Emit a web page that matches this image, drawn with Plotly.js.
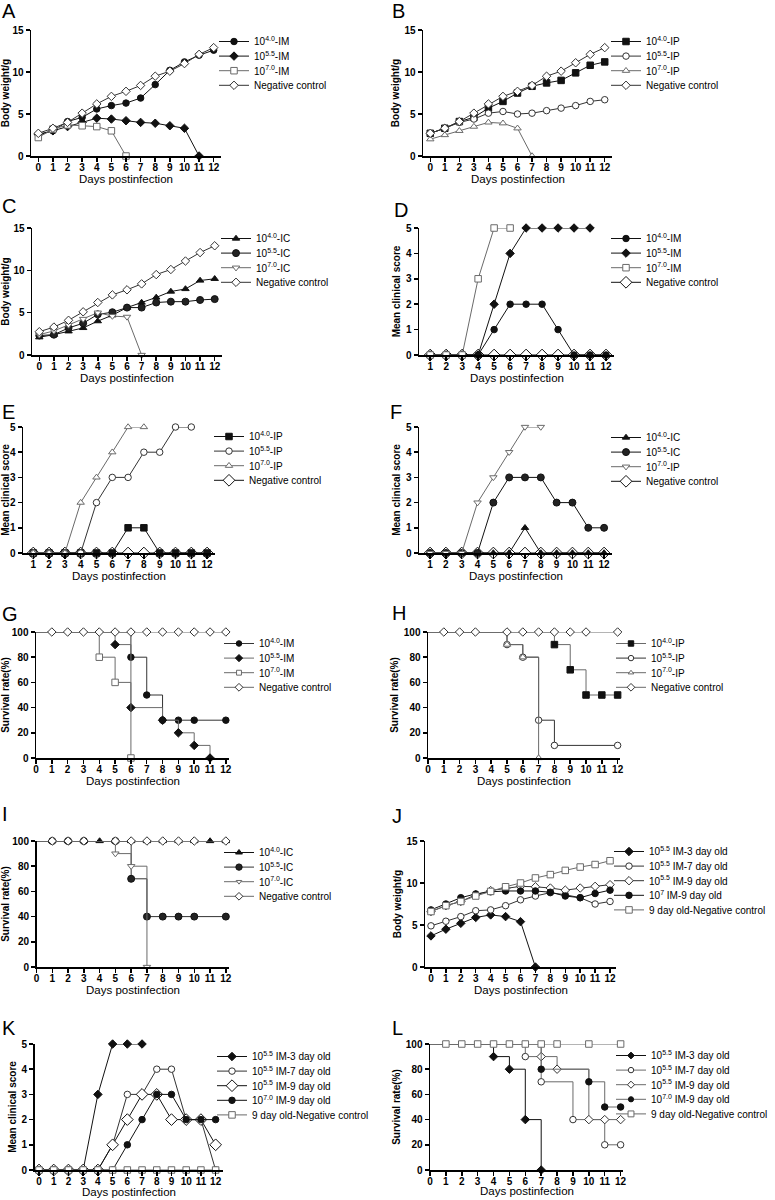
<!DOCTYPE html>
<html><head><meta charset="utf-8">
<script src="https://cdn.plot.ly/plotly-3.0.1.min.js"></script>
<style>body{margin:0;background:#fff}#chart{width:775px;height:1200px}</style>
</head><body><div id="chart"></div>
<script>
// ================= DATA =================
const daysAll = [0,1,2,3,4,5,6,7,8,9,10,11,12];
const days1to12 = [1,2,3,4,5,6,7,8,9,10,11,12];

// A: body weight, IM route
const aIM40 = [2.5,3.0,4.1,4.6,5.6,6.0,6.3,6.9,8.5,10.2,11.2,12.0,12.6];
const aIM55 = [2.6,3.0,3.5,4.0,4.5,4.4,4.2,4.0,3.9,3.6,3.3,0];
const aIM70 = [2.2,3.2,3.7,3.6,3.5,3.0,0];
const aNeg  = [2.7,3.3,4.0,5.1,6.2,7.1,7.7,8.4,9.5,10.1,11.0,12.1,12.9];

// B: body weight, IP route
const bIP40 = [2.7,3.3,4.1,4.6,5.7,6.5,7.5,8.3,8.7,9.0,9.9,10.8,11.2];
const bIP55 = [2.7,3.3,4.0,4.4,5.1,5.3,5.0,5.1,5.4,5.7,6.0,6.5,6.7];
const bIP70 = [2.0,2.5,3.0,3.5,4.0,3.9,3.3,0];
const bNeg  = [2.7,3.3,4.1,5.1,6.2,7.1,7.7,8.4,9.5,10.1,11.1,12.1,12.9];

// C: body weight, IC route
const cIC40 = [2.1,2.4,2.8,3.2,4.0,4.7,5.6,6.2,6.8,7.5,7.8,8.8,9.0];
const cIC55 = [2.3,2.4,3.2,3.75,4.8,5.05,5.6,5.6,6.2,6.3,6.3,6.5,6.6];
const cIC70 = [2.4,2.85,3.55,4.25,5.0,4.6,4.5,0];
const cNeg  = [2.75,3.3,4.1,5.1,6.2,7.1,7.7,8.4,9.5,10.1,11.1,12.1,12.9];

// D: mean clinical score, IM (days 1..)
const dIM40 = [0,0,0,0,1,2,2,2,1,0,0,0];
const dIM55 = [0,0,0,0,2,4,5,5,5,5,5];
const dIM70 = [0,0,0,3,5,5];
const dNeg  = [0,0,0,0,0,0,0,0,0,0,0,0];

// E: mean clinical score, IP (days 1..)
const eIP40 = [0,0,0,0,0,0,1,1,0,0,0,0];
const eIP55 = [0,0,0,0,2,3,3,4,4,5,5];
const eIP70 = [0,0,0,2,3,4,5,5];
const eNeg  = [0,0,0,0,0,0,0,0,0,0,0,0];

// F: mean clinical score, IC (days 1..)
const fIC40 = [0,0,0,0,0,0,1,0,0,0,0,0];
const fIC55 = [0,0,0,0,2,3,3,3,2,2,1,1];
const fIP70 = [0,0,0,2,3,4,5,5];
const fNeg  = [0,0,0,0,0,0,0,0,0,0,0,0];

// G: survival, IM (event days / survival %)
const gIM40x = [0,6,7,8,9,10,12];        const gIM40y = [100,80,50,30,30,30,30];
const gIM55x = [0,5,6,8,9,10,11];        const gIM55y = [100,90,40,30,20,10,0];
const gIM70x = [0,4,5,6];                const gIM70y = [100,80,60,0];
const gNegx  = [0,1,2,3,4,5,6,7,8,9,10,11,12];
const gNegy  = [100,100,100,100,100,100,100,100,100,100,100,100,100];

// H: survival, IP
const hIP40x = [0,8,9,10,11,12];         const hIP40y = [100,90,70,50,50,50];
const hIP55x = [0,5,6,7,8,12];           const hIP55y = [100,90,80,30,10,10];
const hIP70x = [0,5,6,7];                const hIP70y = [100,90,80,0];
const hNegx  = [0,1,2,3,5,6,7,8,9,10,12];
const hNegy  = [100,100,100,100,100,100,100,100,100,100,100];

// I: survival, IC
const iIC40x = [0,1,2,3,4,5,6,7,8,9,10,11,12];
const iIC40y = [100,100,100,100,100,100,100,100,100,100,100,100,100];
const iIC55x = [0,1,2,3,5,6,7,8,9,10,12]; const iIC55y = [100,100,100,100,100,70,40,40,40,40,40];
const iIC70x = [0,5,6,7];                const iIC70y = [100,90,80,0];
const iNegx  = [0,1,2,3,5,6,7,8,9,10,12];
const iNegy  = [100,100,100,100,100,100,100,100,100,100,100];

// J: body weight by age
const jD3   = [3.7,4.5,5.2,5.9,6.2,6.0,5.4,0];
const jD7   = [4.9,5.45,6.0,6.7,6.8,7.3,8.0,8.45,8.85,8.6,8.25,7.5,7.8];
const jD9   = [6.6,7.3,7.8,8.6,9.1,9.35,9.6,9.55,9.4,9.15,9.4,9.6,9.8];
const jD9h  = [6.8,7.5,8.25,8.7,8.95,9.05,9.05,9.05,8.9,8.45,8.25,8.75,9.15];
const jNeg  = [6.6,7.3,7.8,8.45,9.0,9.55,10.0,10.6,11.0,11.5,11.9,12.2,12.65];

// K: mean clinical score by age
const kD3   = [0,0,0,0,3,5,5,5];
const kD7   = [0,0,0,0,0,1,3,3,4,4,2,2,0];
const kD9   = [0,0,0,0,0,1,2,3,3,2,2,2,1];
const kD9h  = [0,0,0,0,0,0,1,2,3,3,2,2,2];
const kNeg  = [0,0,0,0,0,0,0,0,0,0,0,0,0];

// L: survival by age
const lD3x  = [0,4,5,6,7];               const lD3y  = [100,90,80,40,0];
const lD7x  = [0,6,7,9,11,12];           const lD7y  = [100,90,70,40,20,20];
const lD9x  = [0,7,8,10,11,12];          const lD9y  = [100,90,80,40,40,40];
const lD9hx = [0,7,10,11,12];            const lD9hy = [100,80,70,50,50];
const lNegx = [0,1,2,3,4,5,6,7,8,10,12];
const lNegy = [100,100,100,100,100,100,100,100,100,100,100];

// legend names / texts
const nIM = ['10<sup>4.0</sup>-IM','10<sup>5.5</sup>-IM','10<sup>7.0</sup>-IM','Negative control'];
const nIP = ['10<sup>4.0</sup>-IP','10<sup>5.5</sup>-IP','10<sup>7.0</sup>-IP','Negative control'];
const nIC = ['10<sup>4.0</sup>-IC','10<sup>5.5</sup>-IC','10<sup>7.0</sup>-IC','Negative control'];
const nF  = ['10<sup>4.0</sup>-IC','10<sup>5.5</sup>-IC','10<sup>7.0</sup>-IP','Negative control'];
const nAge = ['10<sup>5.5</sup> IM-3 day old','10<sup>5.5</sup> IM-7 day old','10<sup>5.5</sup> IM-9 day old','10<sup>7</sup> IM-9 day old','9 day old-Negative control'];
const nAgeK = ['10<sup>5.5</sup> IM-3 day old','10<sup>5.5</sup> IM-7 day old','10<sup>5.5</sup> IM-9 day old','10<sup>7.0</sup> IM-9 day old','9 day old-Negative control'];
const panelLetters = ['A','B','C','D','E','F','G','H','I','J','K','L'];
const xTitle = 'Days postinfection';

// ================= STYLE =================
const W = 775, H = 1200;
const FONT = 'Liberation Sans, Arial, Helvetica, sans-serif';
const BLK = '#111', GRY = '#6a6a6a';
const fx = p => p / W;
const fy = p => 1 - p / H;

// marker styles
const M = {
  fcirc: {symbol:'circle', size:6.5, color:BLK, line:{color:BLK,width:1}, lc:BLK},
  hcirc: {symbol:'circle', size:7, color:'#222', line:{color:BLK,width:1}, lc:BLK},
  fdia:  {symbol:'diamond', size:6.5, color:BLK, line:{color:BLK,width:1}, lc:BLK},
  fsq:   {symbol:'square', size:6.5, color:BLK, line:{color:BLK,width:1}, lc:BLK},
  ftri:  {symbol:'triangle-up', size:6.5, color:BLK, line:{color:BLK,width:1}, lc:BLK},
  osq:   {symbol:'square', size:6.5, color:'#fff', line:{color:GRY,width:1}, lc:GRY},
  odia:  {symbol:'diamond', size:6.5, color:'#fff', line:{color:'#333',width:1}, lc:'#333'},
  odiaL: {symbol:'diamond', size:9, color:'#fff', line:{color:BLK,width:1}, lc:BLK},
  ocirc: {symbol:'circle', size:6.5, color:'#fff', line:{color:'#333',width:1}, lc:'#333'},
  otri:  {symbol:'triangle-up', size:6.5, color:'#fff', line:{color:GRY,width:1}, lc:GRY},
  otrid: {symbol:'triangle-down', size:6.5, color:'#fff', line:{color:GRY,width:1}, lc:GRY}
};

const traces = [];
function addTrace(p, x, y, name, mk, opts) {
  opts = opts || {};
  const sizes = opts.hideFirst ? x.map((v, i) => i === 0 ? 0 : mk.size) : mk.size;
  traces.push({
    type: 'scatter', mode: 'lines+markers', x: x, y: y, name: name,
    xaxis: 'x' + (p === 1 ? '' : p), yaxis: 'y' + (p === 1 ? '' : p),
    legend: 'legend' + (p === 1 ? '' : p),
    legendrank: name.indexOf('Negative') >= 0 ? 2000 : 1000,
    cliponaxis: false, opacity: 1,
    line: {color: opts.lc || mk.lc, width: 1, shape: opts.step ? 'hv' : 'linear'},
    marker: {symbol: mk.symbol, size: sizes, color: mk.color, line: mk.line, opacity: 1}
  });
}
const xs = (y) => daysAll.slice(0, y.length);
const xs1 = (y) => days1to12.slice(0, y.length);

// A
addTrace(1, xs(aIM40), aIM40, nIM[0], M.fcirc);
addTrace(1, xs(aIM55), aIM55, nIM[1], M.fdia);
addTrace(1, xs(aIM70), aIM70, nIM[2], M.osq);
addTrace(1, xs(aNeg), aNeg, nIM[3], M.odia);
// B
addTrace(2, xs(bIP40), bIP40, nIP[0], M.fsq);
addTrace(2, xs(bIP55), bIP55, nIP[1], M.ocirc);
addTrace(2, xs(bIP70), bIP70, nIP[2], M.otri);
addTrace(2, xs(bNeg), bNeg, nIP[3], M.odia);
// C
addTrace(3, xs(cIC40), cIC40, nIC[0], M.ftri);
addTrace(3, xs(cIC55), cIC55, nIC[1], M.hcirc);
addTrace(3, xs(cIC70), cIC70, nIC[2], M.otrid);
addTrace(3, xs(cNeg), cNeg, nIC[3], M.odia);
// D
addTrace(4, xs1(dNeg), dNeg, nIM[3], M.odiaL);
addTrace(4, xs1(dIM40), dIM40, nIM[0], M.fcirc);
addTrace(4, xs1(dIM55), dIM55, nIM[1], M.fdia);
addTrace(4, xs1(dIM70), dIM70, nIM[2], M.osq);
// E
addTrace(5, xs1(eNeg), eNeg, nIP[3], M.odiaL);
addTrace(5, xs1(eIP40), eIP40, nIP[0], M.fsq);
addTrace(5, xs1(eIP55), eIP55, nIP[1], M.ocirc);
addTrace(5, xs1(eIP70), eIP70, nIP[2], M.otri);
// F
addTrace(6, xs1(fNeg), fNeg, nF[3], M.odiaL);
addTrace(6, xs1(fIC40), fIC40, nF[0], M.ftri);
addTrace(6, xs1(fIC55), fIC55, nF[1], M.hcirc);
addTrace(6, xs1(fIP70), fIP70, nF[2], M.otrid);
// G
addTrace(7, gIM40x, gIM40y, nIM[0], M.fcirc, {step:true, hideFirst:true, lc:'#333'});
addTrace(7, gIM55x, gIM55y, nIM[1], M.fdia, {step:true, hideFirst:true, lc:GRY});
addTrace(7, gIM70x, gIM70y, nIM[2], M.osq, {step:true, hideFirst:true, lc:GRY});
addTrace(7, gNegx, gNegy, nIM[3], M.odia, {step:true, hideFirst:true, lc:GRY});
// H
addTrace(8, hIP40x, hIP40y, nIP[0], M.fsq, {step:true, hideFirst:true, lc:GRY});
addTrace(8, hIP55x, hIP55y, nIP[1], M.ocirc, {step:true, hideFirst:true, lc:'#333'});
addTrace(8, hIP70x, hIP70y, nIP[2], M.otri, {step:true, hideFirst:true, lc:GRY});
addTrace(8, hNegx, hNegy, nIP[3], M.odia, {step:true, hideFirst:true, lc:GRY});
// I
addTrace(9, iIC40x, iIC40y, nIC[0], M.ftri, {step:true, hideFirst:true, lc:BLK});
addTrace(9, iIC55x, iIC55y, nIC[1], M.hcirc, {step:true, hideFirst:true, lc:'#333'});
addTrace(9, iIC70x, iIC70y, nIC[2], M.otrid, {step:true, hideFirst:true, lc:GRY});
addTrace(9, iNegx, iNegy, nIC[3], M.odia, {step:true, hideFirst:true, lc:GRY});
// J
addTrace(10, xs(jD3), jD3, nAge[0], M.fdia);
addTrace(10, xs(jD7), jD7, nAge[1], M.ocirc);
addTrace(10, xs(jD9), jD9, nAge[2], M.odia);
addTrace(10, xs(jD9h), jD9h, nAge[3], M.fcirc);
addTrace(10, xs(jNeg), jNeg, nAge[4], M.osq);
// K
addTrace(11, xs(kD3), kD3, nAgeK[0], M.fdia);
addTrace(11, xs(kD7), kD7, nAgeK[1], M.ocirc);
addTrace(11, xs(kD9), kD9, nAgeK[2], M.odiaL);
addTrace(11, xs(kD9h), kD9h, nAgeK[3], M.fcirc);
addTrace(11, xs(kNeg), kNeg, nAgeK[4], M.osq);
// L
addTrace(12, lD3x, lD3y, nAgeK[0], M.fdia, {step:true, hideFirst:true, lc:BLK});
addTrace(12, lD7x, lD7y, nAgeK[1], M.ocirc, {step:true, hideFirst:true, lc:GRY});
addTrace(12, lD9x, lD9y, nAgeK[2], M.odia, {step:true, hideFirst:true, lc:GRY});
addTrace(12, lD9hx, lD9hy, nAgeK[3], M.fcirc, {step:true, hideFirst:true, lc:GRY});
addTrace(12, lNegx, lNegy, nAgeK[4], M.osq, {step:true, hideFirst:true, lc:GRY});

// ================= LAYOUT =================
const YW = 'Body weight/g', YC = 'Mean clinical score', YS = 'Survival rate(%)';
// geometry per panel (pixels): plot x-extent, y-extent, axis ranges, legend corner, letter corner, x-title offset
const geo = [
  {x:[31,221],  y:[30,156],   xr:[-0.5,12.5], yr:[0,15],  dt:5,  xt:daysAll,   yt:YW, leg:[214,27],  lab:[0,-2],   tt:23},
  {x:[423,612], y:[30,156],   xr:[-0.5,12.5], yr:[0,15],  dt:5,  xt:daysAll,   yt:YW, leg:[606,27],  lab:[390,-2], tt:23},
  {x:[32,222],  y:[228,355],  xr:[-0.5,12.5], yr:[0,15],  dt:5,  xt:daysAll,   yt:YW, leg:[216,224], lab:[0,193],  tt:23},
  {x:[419,614], y:[228,355],  xr:[0.3,12.5],  yr:[0,5],   dt:1,  xt:days1to12, yt:YC, leg:[606,224], lab:[392,197], tt:23},
  {x:[23,215],  y:[427,553],  xr:[0.35,12.5], yr:[0,5],   dt:1,  xt:days1to12, yt:YC, leg:[209,422], lab:[0,399],  tt:23},
  {x:[419,612], y:[427,553],  xr:[0.3,12.5],  yr:[0,5],   dt:1,  xt:days1to12, yt:YC, leg:[606,423], lab:[388,399], tt:23},
  {x:[36,229],  y:[632,758],  xr:[0,12.2],    yr:[0,100], dt:20, xt:daysAll,   yt:YS, leg:[219,629], lab:[0,601],  tt:23},
  {x:[428,620], y:[632,758],  xr:[0,12.15],   yr:[0,100], dt:20, xt:daysAll,   yt:YS, leg:[611,629], lab:[390,600], tt:23},
  {x:[36.5,229],y:[841,967],  xr:[0,12.2],    yr:[0,100], dt:20, xt:daysAll,   yt:YS, leg:[219,838], lab:[0,801],  tt:23},
  {x:[425,616], y:[841,967],  xr:[-0.4,12.4], yr:[0,15],  dt:5,  xt:daysAll,   yt:YW, leg:[609,837], lab:[390,803], tt:23},
  {x:[34.6,223],y:[1044,1170],xr:[-0.3,12.5], yr:[0,5],   dt:1,  xt:daysAll,   yt:YC, leg:[212,1042],lab:[0,1015], tt:22},
  {x:[430,623], y:[1044,1170],xr:[0,12.15],   yr:[0,100], dt:20, xt:daysAll,   yt:YS, leg:[611,1041],lab:[390,1015],tt:21}
];

const layout = {
  width: W, height: H,
  margin: {l:0, r:0, t:0, b:0},
  paper_bgcolor: '#fff', plot_bgcolor: '#fff',
  font: {family: FONT, color: '#000'},
  showlegend: true,
  annotations: []
};
const tickFont = {family: FONT, size: 10, weight: 'bold', color: '#000'};

geo.forEach((g, i) => {
  const n = i + 1, sfx = n === 1 ? '' : String(n);
  const yticks = [];
  for (let v = g.yr[0]; v <= g.yr[1] + 1e-9; v += g.dt) yticks.push(v);
  layout['xaxis' + sfx] = {
    domain: [fx(g.x[0]), fx(g.x[1])], range: g.xr, anchor: 'y' + sfx,
    showline: true, linecolor: '#000', linewidth: 1.5, mirror: false,
    showgrid: false, zeroline: false, ticks: 'outside', ticklen: 4, tickwidth: 1.5, tickcolor: '#000',
    ticklabelstandoff: -3,
    tickmode: 'array', tickvals: g.xt, ticktext: g.xt.map(String), tickfont: tickFont,
    automargin: false, fixedrange: true
  };
  layout['yaxis' + sfx] = {
    domain: [fy(g.y[1]), fy(g.y[0])], range: g.yr, anchor: 'x' + sfx,
    showline: true, linecolor: '#000', linewidth: 1.5,
    showgrid: false, zeroline: false, ticks: 'outside', ticklen: 4, tickwidth: 1.5, tickcolor: '#000',
    tickmode: 'array', tickvals: yticks, ticktext: yticks.map(String), tickfont: tickFont,
    title: {text: g.yt, font: {family: FONT, size: 10, weight: 'bold', color: '#000'}, standoff: 3},
    automargin: false, fixedrange: true
  };
  layout['legend' + sfx] = {
    x: fx(g.leg[0]), y: fy(g.leg[1]), xanchor: 'left', yanchor: 'top',
    bgcolor: 'rgba(0,0,0,0)', borderwidth: 0, itemwidth: 30, tracegroupgap: 0,
    font: {family: FONT, size: 10, color: '#000'}, traceorder: 'normal'
  };
  // panel letter
  layout.annotations.push({
    xref: 'paper', yref: 'paper', x: fx(g.lab[0]), y: fy(g.lab[1]),
    xanchor: 'left', yanchor: 'top', showarrow: false, text: panelLetters[i],
    font: {family: FONT, size: 20, color: '#000'}
  });
  // x-axis title, placed relative to the axis domain
  layout.annotations.push({
    xref: 'x' + sfx + ' domain', yref: 'y' + sfx + ' domain',
    x: 0.5, y: -g.tt / (g.y[1] - g.y[0]), xanchor: 'center', yanchor: 'middle',
    showarrow: false, text: xTitle, borderpad: 0,
    font: {family: FONT, size: 11.5, color: '#000'}
  });
});

// Tighten legend row spacing to the reference's compact layout (~14.6 px per row)
function tightenLegends(gd) {
  const ROW = 14.6;
  for (let n = 1; n <= geo.length; n++) {
    const id = 'legend' + (n === 1 ? '' : n);
    gd.querySelectorAll('g.' + id).forEach(leg => {
      const items = Array.from(leg.querySelectorAll('g.traces'));
      if (items.length < 2) return;
      const parsed = items.map(it => {
        const m = /translate\(\s*([-\d.eE]+)[ ,]+([-\d.eE]+)\s*\)/.exec(it.getAttribute('transform') || '');
        return m ? [parseFloat(m[1]), parseFloat(m[2])] : null;
      });
      if (parsed.some(p => !p)) return;
      const y0 = parsed[0][1];
      items.forEach((it, k) => {
        it.setAttribute('transform', 'translate(' + parsed[k][0] + ',' + (y0 + k * ROW) + ')');
      });
    });
  }
}

Plotly.newPlot('chart', traces, layout, {staticPlot: true, displayModeBar: false}).then(tightenLegends);
</script>
</body></html>
